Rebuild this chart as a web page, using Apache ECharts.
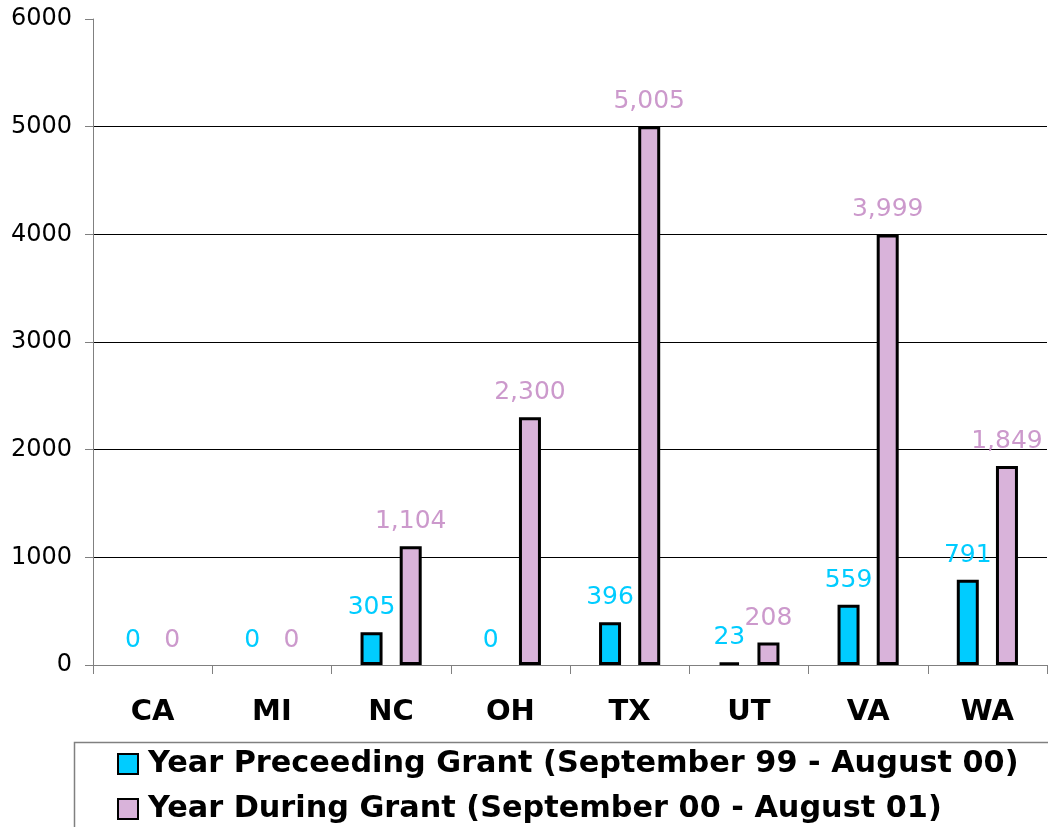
<!DOCTYPE html>
<html>
<head>
<meta charset="utf-8">
<script src="https://cdn.jsdelivr.net/npm/echarts@6/dist/echarts.min.js"></script>
<style>html,body{margin:0;padding:0;background:#fff}#c{width:1048px;height:827px}</style>
</head>
<body>
<div id="c"></div>
<script>
const categories = ['CA', 'MI', 'NC', 'OH', 'TX', 'UT', 'VA', 'WA'];
const preceding = [0, 0, 305, 0, 396, 23, 559, 791];
const during = [0, 0, 1104, 2300, 5005, 208, 3999, 1849];
const seriesNames = ['Year Preceeding Grant (September 99 - August 00)', 'Year During Grant (September 00 - August 01)'];
const yTicks = [0, 1000, 2000, 3000, 4000, 5000, 6000];

const chart = echarts.init(document.getElementById('c'), null, {renderer: 'canvas'});
const fontFam = 'DejaVu Sans, Verdana, sans-serif';
const fmt = v => v.toLocaleString('en-US');

function mkSeries(name, data, fill, labelColor) {
  return {
    name: name,
    type: 'bar',
    data: data.map(v => v === 0 ? {value: v, itemStyle: {borderWidth: 0}} : v),
    barWidth: 22,
    barGap: '78%',
    itemStyle: {color: fill, borderColor: '#000', borderWidth: 3},
    label: {
      show: true, position: 'top', distance: 12,
      color: labelColor, fontFamily: fontFam, fontSize: 25,
      formatter: p => fmt(p.value)
    }
  };
}

chart.setOption({
  animation: false,
  grid: {left: 93, right: 1, top: 19, bottom: 162, containLabel: false},
  xAxis: {
    type: 'category', data: categories,
    axisLine: {lineStyle: {color: '#808080', width: 1}},
    axisTick: {show: true, length: 9, lineStyle: {color: '#808080'}},
    axisLabel: {color: '#000', fontFamily: fontFam, fontWeight: 'bold', fontSize: 29, margin: 33}
  },
  yAxis: {
    type: 'value', min: yTicks[0], max: yTicks[yTicks.length - 1], interval: 1000,
    axisLine: {show: true, lineStyle: {color: '#808080', width: 1}},
    axisTick: {show: true, length: 8, lineStyle: {color: '#808080'}},
    axisLabel: {color: '#000', fontFamily: fontFam, fontSize: 24, margin: 21, formatter: v => String(v)},
    splitLine: {show: true, lineStyle: {color: '#000', width: 1}, showMaxLine: false}
  },
  legend: {
    orient: 'vertical', left: 117, top: 747, padding: 0,
    icon: 'rect',
    itemWidth: 20, itemHeight: 20, itemGap: 11,
    textStyle: {color: '#000', fontFamily: fontFam, fontWeight: 'bold', fontSize: 30.3, lineHeight: 34, padding: [0, 0, 0, 5]},
    data: seriesNames
  },
  graphic: [{
    type: 'rect', left: 72, top: 740, silent: true,
    shape: {width: 1100, height: 200},
    style: {fill: 'none', stroke: '#808080', lineWidth: 1.5}
  }],
  series: [
    mkSeries(seriesNames[0], preceding, '#00CCFF', '#00CCFF'),
    mkSeries(seriesNames[1], during, '#D9B3DA', '#CC99CC')
  ]
});
</script>
</body>
</html>
